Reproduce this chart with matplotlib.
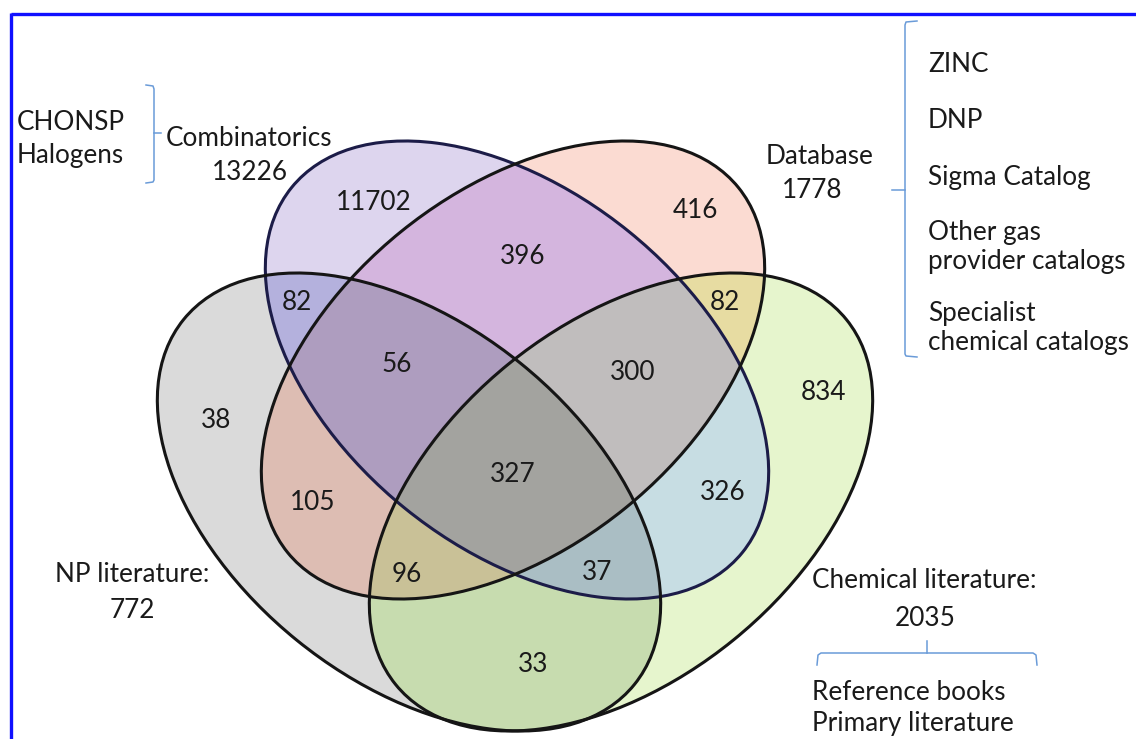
import numpy as np
import matplotlib.pyplot as plt
from matplotlib.patches import Ellipse
from matplotlib.colors import to_rgba

plt.rcParams['font.family'] = ['Lato', 'DejaVu Sans']

# set labels and totals
set_keys = ['C', 'D', 'N', 'L']
set_names = ['Combinatorics', 'Database', 'NP literature:', 'Chemical literature:']
set_totals = [13226, 1778, 772, 2035]

# counts of each Venn region (C=Combinatorics, D=Database, N=NP lit, L=Chemical lit)
region_sets = ['C', 'D', 'N', 'L', 'CD', 'CN', 'DL', 'DN', 'CL', 'NL',
               'CDN', 'CDL', 'DNL', 'CNL', 'CDNL']
region_counts = [11702, 416, 38, 834, 396, 82, 82, 105, 326, 33,
                 56, 300, 96, 37, 327]

# side notes
combi_notes = ['CHONSP', 'Halogens']
database_notes = ['ZINC', 'DNP', 'Sigma Catalog', 'Other gas\nprovider catalogs',
                  'Specialist\nchemical catalogs']
chemlit_notes = ['Reference books', 'Primary literature']

# ---- layout (pixel coords, y down) ----
W, H = 1136, 739
ell_center = {'C': (517, 370), 'D': (513, 370), 'N': (409, 502), 'L': (621, 502)}
ell_angle = {'C': 39, 'D': -39, 'N': 39, 'L': -39}
semi_a, semi_b = 290, 178
edge_col = {'C': '#1c1c48', 'D': '#151515', 'N': '#151515', 'L': '#151515'}

region_xy = [(374, 203), (695, 210), (216, 420), (823, 392), (523, 257), (297, 302),
             (725, 303), (313, 502), (723, 493), (533, 665), (397, 365), (633, 373),
             (407, 575), (597, 573), (513, 475)]
region_color = {'C': '#ddd5ee', 'D': '#fbdbd2', 'N': '#dadada', 'L': '#e6f5cd',
                'CD': '#d4b5de', 'CN': '#b4b1dd', 'DL': '#e7dca2', 'DN': '#ddbdb3',
                'CL': '#c7dde3', 'NL': '#c7dcaf', 'CDN': '#ae9dbf', 'CDL': '#c0bdbd',
                'DNL': '#c9c197', 'CNL': '#aabec4', 'CDNL': '#a3a39f'}

fig = plt.figure(figsize=(W / 100, H / 100), dpi=100)
ax = fig.add_axes([0, 0, 1, 1])
ax.set_xlim(0, W)
ax.set_ylim(H, 0)
ax.axis('off')

# fill regions by membership
yy, xx = np.mgrid[0:H, 0:W] + 0.5
code = np.zeros((H, W), dtype=int)
for i, k in enumerate(set_keys):
    cx, cy = ell_center[k]
    t = np.deg2rad(ell_angle[k])
    dx, dy = xx - cx, yy - cy
    u = dx * np.cos(t) + dy * np.sin(t)
    v = -dx * np.sin(t) + dy * np.cos(t)
    inside = (u / semi_a) ** 2 + (v / semi_b) ** 2 <= 1
    code += inside * (1 << i)

img = np.ones((H, W, 4))
img[..., 3] = 0
for name in region_sets:
    bits = sum(1 << set_keys.index(ch) for ch in name)
    img[code == bits] = to_rgba(region_color[name])
ax.imshow(img, extent=(0, W, H, 0), interpolation='nearest', zorder=1)

for k in set_keys:
    ax.add_patch(Ellipse(ell_center[k], 2 * semi_a, 2 * semi_b, angle=ell_angle[k],
                         fill=False, ec=edge_col[k], lw=2.2, zorder=2))

fs = 18.8
tc = '#1a1a1a'
for n, (x, y) in zip(region_counts, region_xy):
    ax.text(x, y, str(n), ha='center', va='center', fontsize=fs, color=tc, zorder=3)

# set labels
label_xy = [((249, 138), (250, 172)), ((820, 157), (812, 190)),
            ((132, 575), (132, 610)), ((924, 581), (925, 618))]
for name, tot, (p1, p2) in zip(set_names, set_totals, label_xy):
    ax.text(*p1, name, ha='center', va='center', fontsize=fs, color=tc)
    ax.text(*p2, str(tot), ha='center', va='center', fontsize=fs, color=tc)

# notes
for s, y in zip(combi_notes, [122, 155]):
    ax.text(17, y, s, ha='left', va='center', fontsize=fs, color=tc)
for s, y in zip(database_notes, [65, 120, 177, 247, 328]):
    ax.text(928, y, s, ha='left', va='center', fontsize=fs, color=tc, linespacing=1.22)
for s, y in zip(chemlit_notes, [692, 723]):
    ax.text(812, y, s, ha='left', va='center', fontsize=fs, color=tc)

# braces
bc = '#6a9bd8'
ax.plot([146, 153, 154, 154, 153, 146], [85, 86, 89, 180, 182, 183], color=bc, lw=1.1)
ax.plot([154, 161], [133, 133], color=bc, lw=1.1)
ax.plot([917, 906, 905, 905, 906, 917], [21, 22, 25, 354, 356, 357], color=bc, lw=1.1)
ax.plot([892, 905], [190, 190], color=bc, lw=1.1)
ax.plot([817, 818, 821, 1033, 1036, 1037], [665, 655, 653, 653, 655, 665], color=bc, lw=1.1)
ax.plot([927, 927], [653, 641], color=bc, lw=1.1)

# blue frame (cut at right / bottom)
ax.plot([11, W], [14, 14], color='#1010ff', lw=2.4, solid_capstyle='butt')
ax.plot([11, 11], [13, H], color='#1010ff', lw=2.4, solid_capstyle='butt')

fig.savefig('out.png', dpi=100)
